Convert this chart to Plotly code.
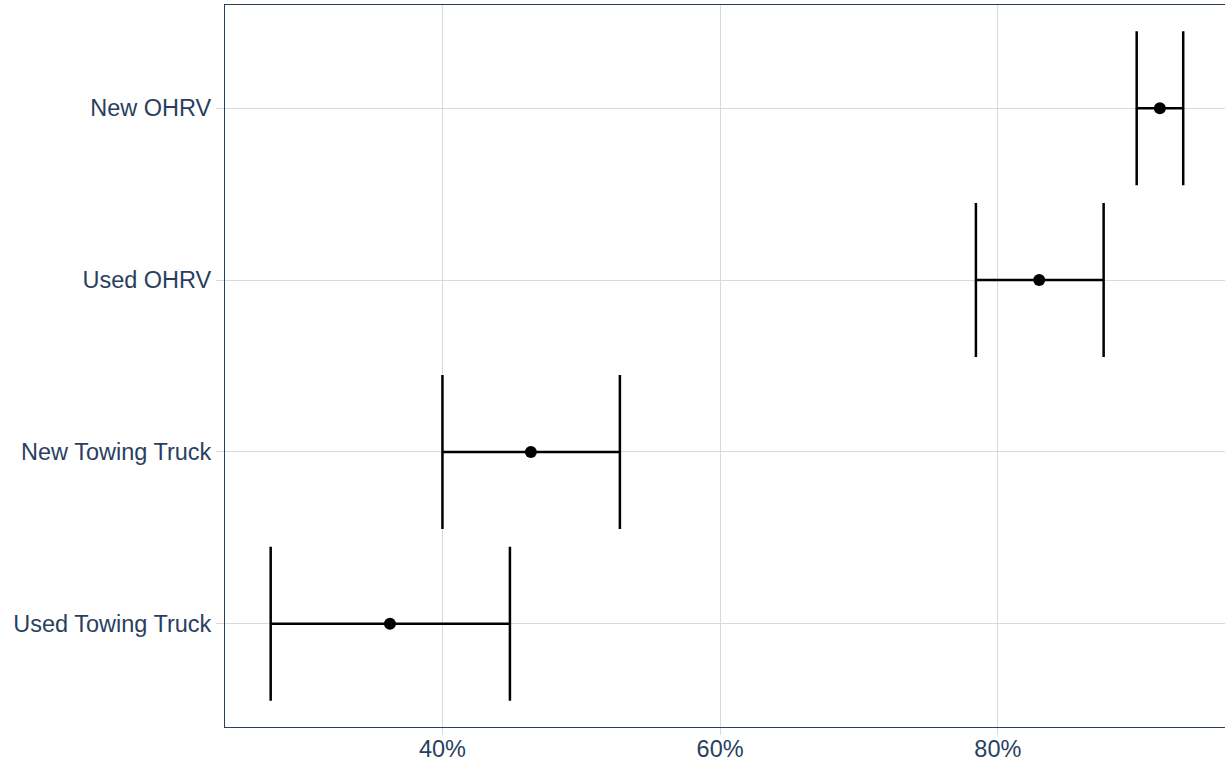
import plotly.graph_objects as go

categories = ["Used Towing Truck", "New Towing Truck", "Used OHRV", "New OHRV"]
estimate = [36.22, 46.37, 82.98, 91.67]
lower = [27.63, 40.0, 78.42, 90.0]
upper = [44.86, 52.78, 87.62, 93.35]
tick_vals = [40, 60, 80]
tick_text = ["40%", "60%", "80%"]

err_plus = [u - e for u, e in zip(upper, estimate)]
err_minus = [e - l for e, l in zip(estimate, lower)]

fig = go.Figure()
fig.add_trace(go.Scatter(
    x=estimate, y=categories, mode="markers",
    marker=dict(color="black", size=12),
    error_x=dict(type="data", symmetric=False, array=err_plus, arrayminus=err_minus,
                 color="black", thickness=2.5, width=77),
    showlegend=False,
))

font_color = "#2a3f5f"
fig.update_layout(
    width=1225, height=763,
    margin=dict(l=225, r=0, t=5, b=36, autoexpand=False),
    paper_bgcolor="white", plot_bgcolor="white",
    font=dict(family="Liberation Sans, Arial, sans-serif", size=23.5, color=font_color),
)
fig.update_xaxes(
    range=[24.34, 96.36], tickvals=tick_vals, ticktext=tick_text,
    showgrid=True, gridcolor="#d9d9d9", gridwidth=1,
    showline=True, linecolor=font_color, linewidth=1, mirror=True,
    ticks="outside", ticklen=7, tickcolor="#d9d9d9", zeroline=False,
    automargin=False, ticklabelstandoff=-6,
)
fig.update_yaxes(
    type="category", categoryorder="array", categoryarray=categories,
    range=[-0.6, 3.6],
    showgrid=True, gridcolor="#d9d9d9", gridwidth=1,
    showline=True, linecolor=font_color, linewidth=1,
    ticks="outside", ticklen=8, tickcolor="#d9d9d9", zeroline=False,
    automargin=False,
)
fig.write_html("out.html", config={"displayModeBar": False},
               post_script="document.body.style.margin='0';document.body.style.overflow='hidden';")
